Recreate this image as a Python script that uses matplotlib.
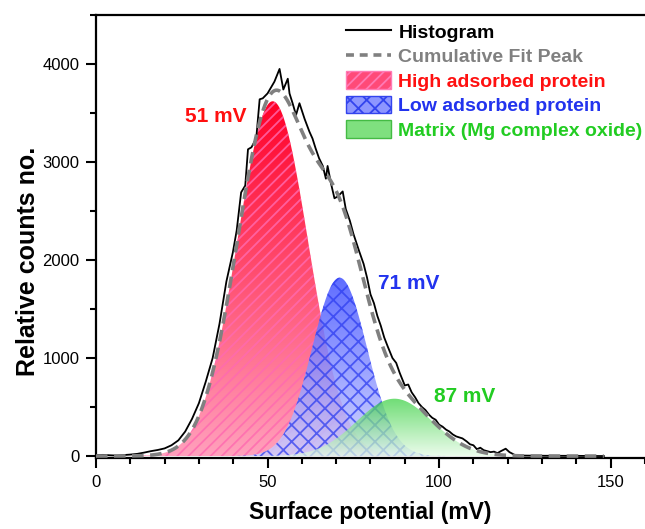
import numpy as np
import matplotlib.pyplot as plt
from matplotlib.colors import LinearSegmentedColormap
from matplotlib.patches import Polygon, Patch
from matplotlib.lines import Line2D

plt.rcParams['font.family'] = ['Liberation Sans', 'DejaVu Sans']
plt.rcParams['hatch.linewidth'] = 1.3

# histogram (mV, counts)
hist_x = [0, 2, 4, 6, 8, 10, 12, 14, 16, 18, 20, 22, 24, 26, 28, 30, 32, 34, 36, 38,
          39.9, 41, 42.3, 43.5, 44.3, 45.3, 46.7, 47.7, 48.6, 50, 51, 52, 53.5, 54.6,
          55.9, 56.4, 57.3, 58.3, 59.3, 60.8, 62.2, 63.1, 64, 65, 66.1, 67, 67.5, 68.5,
          69.5, 70.5, 71.9, 72.8, 74, 75, 76.7, 78, 79, 80, 81, 82, 83, 84, 85, 86.4,
          87.5, 88.5, 90, 91, 92, 93, 94, 95, 96, 97.1, 98, 99, 100, 101, 102, 103, 104,
          105, 106.8, 108, 109, 110, 111, 112, 113, 114, 115, 116, 117, 118, 119.4,
          120.5, 122, 124, 130, 140, 148]
hist_y = [8, 12, 8, 5, 10, 15, 22, 35, 50, 62, 78, 110, 160, 250, 380, 540, 760, 1000,
          1350, 1780, 2080, 2300, 2690, 2760, 3130, 3150, 3240, 3640, 3650, 3700, 3760,
          3820, 3950, 3740, 3850, 3700, 3600, 3480, 3600, 3440, 3310, 3240, 3140, 3040,
          2960, 2830, 2960, 2780, 2630, 2650, 2700, 2520, 2400, 2270, 2090, 1960, 1820,
          1650, 1560, 1430, 1330, 1210, 1120, 1000, 950, 850, 720, 730, 650, 600, 540,
          500, 470, 420, 390, 370, 320, 300, 270, 250, 220, 200, 180, 150, 120, 110, 70,
          85, 60, 50, 40, 45, 30, 50, 75, 40, 12, 5, 3, 2, 0]

# fitted gaussian peaks
peak_names = ['High adsorbed protein', 'Low adsorbed protein', 'Matrix (Mg complex oxide)']
peak_centres = [51.5, 71.0, 87.0]
peak_sigmas = [10.3, 8.0, 11.0]
peak_heights = [3620, 1820, 585]
peak_labels = ['51 mV', '71 mV', '87 mV']
label_x = [35.0, 91.0, 107.3]
label_y = [3460, 1760, 610]

fit_x = np.linspace(0, 148, 800)
peaks = [h * np.exp(-(fit_x - c) ** 2 / (2 * s ** 2))
         for c, s, h in zip(peak_centres, peak_sigmas, peak_heights)]
cumulative = np.sum(peaks, axis=0)


def gradient_fill(ax, x, y, top, bottom, alpha, z, hatch=None, hatch_color=None):
    verts = np.vstack([np.column_stack([x, y]), [[x[-1], 0], [x[0], 0]]])
    clip = Polygon(verts, closed=True, facecolor='none', edgecolor='none',
                   transform=ax.transData)
    ax.add_patch(clip)
    cmap = LinearSegmentedColormap.from_list('grad', [bottom, top])
    grad = np.linspace(0, 1, 256).reshape(-1, 1)
    im = ax.imshow(grad, cmap=cmap, extent=[x[0], x[-1], 0, y.max()], origin='lower',
                   aspect='auto', alpha=alpha, zorder=z, interpolation='bilinear')
    im.set_clip_path(clip)
    if hatch:
        ax.fill_between(x, 0, y, facecolor='none', edgecolor=hatch_color, hatch=hatch,
                        linewidth=0, zorder=z + 0.1)


fig = plt.figure(figsize=(6.45, 5.29), dpi=100)
ax = fig.add_axes([0.1488, 0.1342, 0.8512, 0.8374])

gradient_fill(ax, fit_x, peaks[0], '#ff0028', '#ffa0bc', 1.0, 1, '///', '#ff6ab0d0')
gradient_fill(ax, fit_x, peaks[1], '#4252ff', '#cdd0ff', 0.85, 2, 'xx', '#2c3cf0bb')
gradient_fill(ax, fit_x, peaks[2], '#36d03f', '#e4fbe4', 0.72, 3)

ax.plot(hist_x, hist_y, color='black', lw=1.3, zorder=5)
ax.plot(fit_x, cumulative, color='#808080', lw=2.6, ls=(0, (3.2, 1.8)), zorder=6)

colors = ['#ff1010', '#2233ee', '#22cc22']
for txt, lx, ly, c in zip(peak_labels, label_x, label_y, colors):
    ax.text(lx, ly, txt, color=c, fontsize=15, fontweight='bold', ha='center', va='center')

ax.set_xlim(0, 160)
ax.set_ylim(-20, 4500)
ax.set_xticks([0, 50, 100, 150])
ax.set_xticks(np.arange(0, 161, 10), minor=True)
ax.set_yticks([0, 1000, 2000, 3000, 4000])
ax.set_yticks(np.arange(0, 4501, 500), minor=True)
ax.tick_params(which='major', direction='out', length=7, width=1.5, labelsize=12, pad=5)
ax.tick_params(which='minor', direction='out', length=4, width=1.5)
ax.spines['right'].set_visible(False)
for sp in ['left', 'bottom', 'top']:
    ax.spines[sp].set_linewidth(1.6)

ax.set_xlabel('Surface potential (mV)', fontsize=16.5, fontweight='bold', labelpad=8)
ax.set_ylabel('Relative counts no.', fontsize=18, fontweight='bold')
ax.yaxis.set_label_coords(-0.102, 0.4436)

handles = [
    Line2D([], [], color='black', lw=1.5),
    Line2D([], [], color='#808080', lw=2.6, ls=(0, (2.2, 1.6))),
    Patch(facecolor='#ff4a78', edgecolor='#ff7ab5', hatch='///'),
    Patch(facecolor='#8d96ff', edgecolor='#3344ee', hatch='xx'),
    Patch(facecolor='#7fe07f', edgecolor='#44bb44'),
]
names = ['Histogram', 'Cumulative Fit Peak'] + peak_names
leg = ax.legend(handles, names, loc='upper left', bbox_to_anchor=(0.455, 0.983),
                frameon=False, borderaxespad=0, borderpad=0, handlelength=2.35,
                handleheight=1.0, handletextpad=0.35, labelspacing=0.26,
                prop={'size': 14, 'weight': 'bold'})
for t, c in zip(leg.get_texts(), ['black', '#808080'] + colors):
    t.set_color(c)

fig.savefig('out.png', dpi=100)
